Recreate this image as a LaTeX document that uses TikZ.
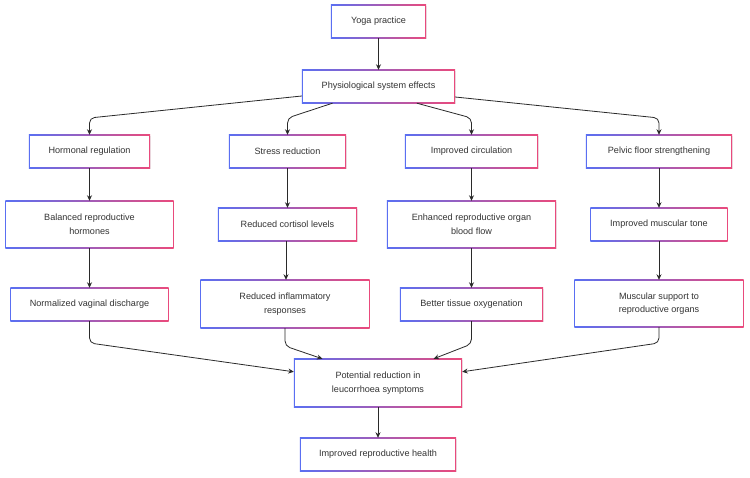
\documentclass[tikz,border=0pt]{standalone}
\usepackage{fontspec}
\setmainfont{Liberation Sans}
\usetikzlibrary{arrows.meta,calc,backgrounds}
\definecolor{bordL}{HTML}{5A6FF2}
\definecolor{bordR}{HTML}{EA4A7C}
\definecolor{txt}{HTML}{333333}
\definecolor{wire}{HTML}{2A2A2A}
\tikzset{
  gbox/.style={
    rectangle, inner sep=0pt, align=center, text=txt,
    font=\fontsize{9.1}{13.7}\selectfont
  },
  sz/.style 2 args={minimum width=#1pt, minimum height=#2pt},
  arr/.style={draw=wire, line width=0.8pt, rounded corners=5pt,
    -{Stealth[length=5.5pt,width=5pt]}}
}
\begin{document}
\begin{tikzpicture}[x=1pt,y=-1pt]
\useasboundingbox (0,0) rectangle (750,478);

% top of the chart
\node[gbox, sz={95}{33}]  (yoga) at (378.5,21.5) {Yoga practice};
\node[gbox, sz={153}{33}] (phys) at (378.5,86.5) {Physiological system effects};

% four effect branches
\node[gbox, sz={121}{33}] (horm) at (89.5,151.5)  {Hormonal regulation};
\node[gbox, sz={117}{33}] (stre) at (287.5,151.5) {Stress reduction};
\node[gbox, sz={133}{33}] (circ) at (471.5,151.5) {Improved circulation};
\node[gbox, sz={146}{33}] (pelv) at (659,151.5)   {Pelvic floor strengthening};

\node[gbox, sz={168}{47}] (bal)  at (89.5,224.5)  {Balanced reproductive\\hormones};
\node[gbox, sz={139}{33}] (cort) at (287.5,224.5) {Reduced cortisol levels};
\node[gbox, sz={169}{47}] (blood) at (471.5,224.5) {Enhanced reproductive organ\\blood flow};
\node[gbox, sz={137}{33}] (tone) at (659,224.5)   {Improved muscular tone};

\node[gbox, sz={158}{33}] (disc) at (89.5,304.5)  {Normalized vaginal discharge};
\node[gbox, sz={169}{48}] (infl) at (285,304)     {Reduced inflammatory\\responses};
\node[gbox, sz={143}{33}] (oxy)  at (471.5,304.5) {Better tissue oxygenation};
\node[gbox, sz={169}{47}] (supp) at (659,303.5)   {Muscular support to\\reproductive organs};

% outcome
\node[gbox, sz={168}{48}] (pot)  at (378,383)     {Potential reduction in\\leucorrhoea symptoms};
\node[gbox, sz={156}{33}] (heal) at (378,454.5)   {Improved reproductive health};

% box frames: faint shadow, blue-to-pink border, white face
\begin{scope}[on background layer]
  \fill[white] (0,0) rectangle (750,478);
  \foreach \n in {yoga,phys,horm,stre,circ,pelv,bal,cort,blood,tone,disc,infl,oxy,supp,pot,heal}{
    \fill[black!8] ([shift={(0.5pt,-0.8pt)}]\n.south west) rectangle ([shift={(0.5pt,-0.8pt)}]\n.north east);
    \shade[left color=bordL, right color=bordR] (\n.south west) rectangle (\n.north east);
    \fill[white] ([shift={(0.9pt,0.9pt)}]\n.south west) rectangle ([shift={(-0.9pt,-0.9pt)}]\n.north east);
  }
\end{scope}

% connectors
\draw[arr] (yoga) -- (phys);
\draw[arr] ([yshift=-9.5pt]phys.west) -- (89.5,118) -- (horm.north);
\draw[arr] ($(phys.south west)!0.2!(phys.south east)$) -- (287.5,118) -- (stre.north);
\draw[arr] ($(phys.south west)!0.75!(phys.south east)$) -- (471.5,118) -- (circ.north);
\draw[arr] ([yshift=-10.5pt]phys.east) -- (659,118) -- (pelv.north);

\draw[arr] (horm) -- (bal);
\draw[arr] (stre) -- (cort);
\draw[arr] (circ) -- (blood);
\draw[arr] (pelv) -- (tone);

\draw[arr] (bal) -- (disc);
\draw[arr] ([xshift=-1.5pt]cort.south) -- ([xshift=1pt]infl.north);
\draw[arr] (blood) -- (oxy);
\draw[arr] (tone) -- (supp);

\draw[arr] (disc.south) -- (89.5,343) -- ([yshift=-13pt]pot.north west);
\draw[arr] (infl.south) -- (285,346) -- ($(pot.north west)!0.17!(pot.north east)$);
\draw[arr] (oxy.south) -- (471.5,344) -- ($(pot.north west)!0.83!(pot.north east)$);
\draw[arr] (supp.south) -- (659,343) -- ([yshift=-13pt]pot.north east);

\draw[arr] (pot) -- (heal);
\end{tikzpicture}
\end{document}
